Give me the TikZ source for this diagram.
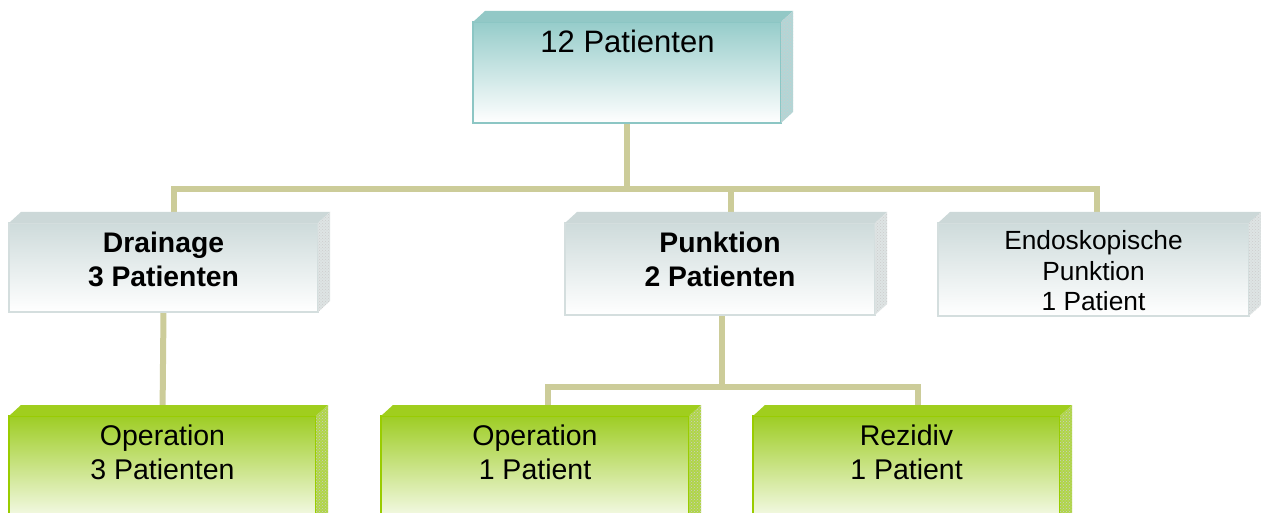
\documentclass[tikz,border=0pt]{standalone}
\usepackage{fontspec}
\setmainfont{Liberation Sans}
\usetikzlibrary{patterns}
\definecolor{tealc}{RGB}{150,204,202}
\definecolor{tealb}{RGB}{140,198,196}
\definecolor{tealtop}{RGB}{146,200,198}
\definecolor{tealside}{RGB}{178,214,214}
\definecolor{grayc}{RGB}{206,219,219}
\definecolor{grayb}{RGB}{212,222,222}
\definecolor{graytop}{RGB}{204,216,216}
\definecolor{grayside}{RGB}{222,228,228}
\definecolor{greenc}{RGB}{158,205,36}
\definecolor{greenb}{RGB}{153,204,0}
\definecolor{greentop}{RGB}{160,206,30}
\definecolor{greenside}{RGB}{176,214,70}
\definecolor{linec}{RGB}{204,204,153}
\pgfdeclarelayer{background}
\pgfsetlayers{background,main}
\newcommand\bevelbox[3]{%
  \fill[#2] (#1.north west) -- ++(12,-11) -- ([shift={(12,-11)}]#1.north east) -- (#1.north east) -- cycle;
  \fill[#3] (#1.north east) -- ++(12,-11) -- ([shift={(12,-11)}]#1.south east) -- (#1.south east) -- cycle;
  \fill[pattern=crosshatch dots, pattern color=white!60!gray] (#1.north east) -- ++(12,-11) -- ([shift={(12,-11)}]#1.south east) -- (#1.south east) -- cycle;
}
\begin{document}
\begin{tikzpicture}[x=1pt,y=-1pt,
  box/.style={rectangle, anchor=north west, inner sep=0pt, outer sep=0pt, line width=1.2pt},
  tealbox/.style={box, draw=tealb, top color=tealc, middle color=tealc!65!white, bottom color=white},
  graybox/.style={box, draw=grayb, top color=grayc, middle color=grayc!50!white, bottom color=white},
  greenbox/.style={box, draw=greenb, top color=greenc, middle color=greenc!35!white, bottom color=white},
  conn/.style={draw=linec, line width=6pt},
  toptxt/.style={anchor=base, inner sep=0pt, font=\fontsize{31}{37}\selectfont},
  boldtxt/.style={anchor=base, inner sep=0pt, font=\fontsize{28.3}{34}\selectfont\bfseries},
  regtxt/.style={anchor=base, inner sep=0pt, font=\fontsize{28.5}{34}\selectfont},
  smalltxt/.style={anchor=base, inner sep=0pt, font=\fontsize{26.3}{30}\selectfont}
]
\useasboundingbox (0,0) rectangle (1261,513);

% boxes
\node[tealbox, minimum width=308, minimum height=101] (top) at (473,22) {};
\node[graybox, minimum width=309, minimum height=89] (drain) at (9,223) {};
\node[graybox, minimum width=310, minimum height=92] (punk) at (565,223) {};
\node[graybox, minimum width=311, minimum height=93] (endo) at (938,223) {};
\node[greenbox, minimum width=307, minimum height=114] (op1) at (9,416) {};
\node[greenbox, minimum width=308, minimum height=114] (op2) at (381,416) {};
\node[greenbox, minimum width=307, minimum height=114] (rez) at (753,416) {};

\bevelbox{top}{tealtop}{tealside}
\bevelbox{drain}{graytop}{grayside}
\bevelbox{punk}{graytop}{grayside}
\bevelbox{endo}{graytop}{grayside}
\bevelbox{op1}{greentop}{greenside}
\bevelbox{op2}{greentop}{greenside}
\bevelbox{rez}{greentop}{greenside}

% texts
\node[toptxt] (top-t) at (627.5,53) {12 Patienten};
\node[boldtxt] (drain-t1) at (163.5,253) {Drainage};
\node[boldtxt] (drain-t2) at (163.5,287) {3 Patienten};
\node[boldtxt] (punk-t1) at (720,253) {Punktion};
\node[boldtxt] (punk-t2) at (720,287) {2 Patienten};
\node[smalltxt] (endo-t1) at (1093.5,250) {Endoskopische};
\node[smalltxt] (endo-t2) at (1093.5,280) {Punktion};
\node[smalltxt] (endo-t3) at (1093.5,310) {1 Patient};
\node[regtxt] (op1-t1) at (162.5,445) {Operation};
\node[regtxt] (op1-t2) at (162.5,479) {3 Patienten};
\node[regtxt] (op2-t1) at (535,445) {Operation};
\node[regtxt] (op2-t2) at (535,479) {1 Patient};
\node[regtxt] (rez-t1) at (906.5,445) {Rezidiv};
\node[regtxt] (rez-t2) at (906.5,479) {1 Patient};

% connectors
\begin{pgfonlayer}{background}
\fill[white] (0,0) rectangle (1261,513);
\coordinate (bus) at (628,189);
\coordinate (pbus) at (722,387);
\draw[conn] (top.south) -- (top.south |- bus);
\draw[conn] ([xshift=10.5pt]drain.north) |- (bus) -| ([xshift=3.5pt]endo.north);
\draw[conn] ([xshift=11pt]punk.north) -- ([xshift=11pt]punk.north |- bus);
\draw[conn] (drain.south) -- (op1.north);
\draw[conn] ([xshift=2pt]punk.south) -- ([xshift=2pt]punk.south |- pbus);
\draw[conn] ([xshift=12.5pt]op2.north) |- (pbus) -| ([xshift=11.5pt]rez.north);
\end{pgfonlayer}
\end{tikzpicture}
\end{document}
